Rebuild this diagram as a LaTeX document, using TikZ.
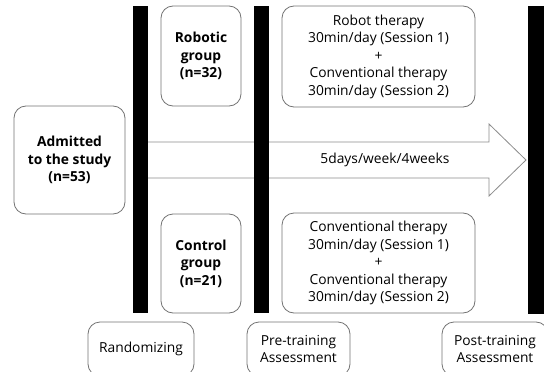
\documentclass[tikz,border=0pt]{standalone}
\usepackage{fontspec}
\setmainfont{Open Sans}
\begin{document}
\begin{tikzpicture}[x=1pt,y=-1pt,
  box/.style={draw=black!55, line width=0.8pt, rounded corners=12pt, fill=white, align=center, inner sep=0pt,
    font=\fontsize{13.8}{17.5}\selectfont},
  bbox/.style={box, font=\bfseries\fontsize{13.8}{17.5}\selectfont},
  bar/.style={fill=black, draw=none}]
\clip (0,0) rectangle (544,372);
% arrow
\draw[draw=black!45, line width=0.8pt, fill=white] (140,142) -- (489,142) -- (489,124) -- (526,160) -- (489,196) -- (489,178) -- (140,178) -- cycle;
\node[font=\fontsize{13.8}{17.5}\selectfont] (dur) at (385,160) {5days/week/4weeks};
% bars
\fill[bar] (133,6) rectangle (148,313);
\fill[bar] (254,6) rectangle (269,313);
\fill[bar] (528,6) rectangle (548,314);
% boxes
\node[bbox, minimum width=111pt, minimum height=108pt] (adm) at (69.5,160) {Admitted\\to the study\\(n=53)};
\node[bbox, minimum width=80pt, minimum height=100pt] (rob) at (201,56) {Robotic\\group\\(n=32)};
\node[bbox, minimum width=80pt, minimum height=99pt] (ctl) at (201,263.5) {Control\\group\\(n=21)};
\node[box, minimum width=193pt, minimum height=101pt] (rtx) at (378.5,56.5) {Robot therapy\\30min/day (Session 1)\\+\\Conventional therapy\\30min/day (Session 2)};
\node[box, minimum width=193pt, minimum height=100pt] (ctx) at (378.5,263) {Conventional therapy\\30min/day (Session 1)\\+\\Conventional therapy\\30min/day (Session 2)};
\node[box, minimum width=106pt, minimum height=54pt] (rand) at (141,349) {Randomizing};
\node[box, minimum width=103pt, minimum height=54pt] (pre) at (298.5,349) {Pre-training\\Assessment};
\node[box, minimum width=106pt, minimum height=54pt] (post) at (495,349) {Post-training\\Assessment};
\end{tikzpicture}
\end{document}
